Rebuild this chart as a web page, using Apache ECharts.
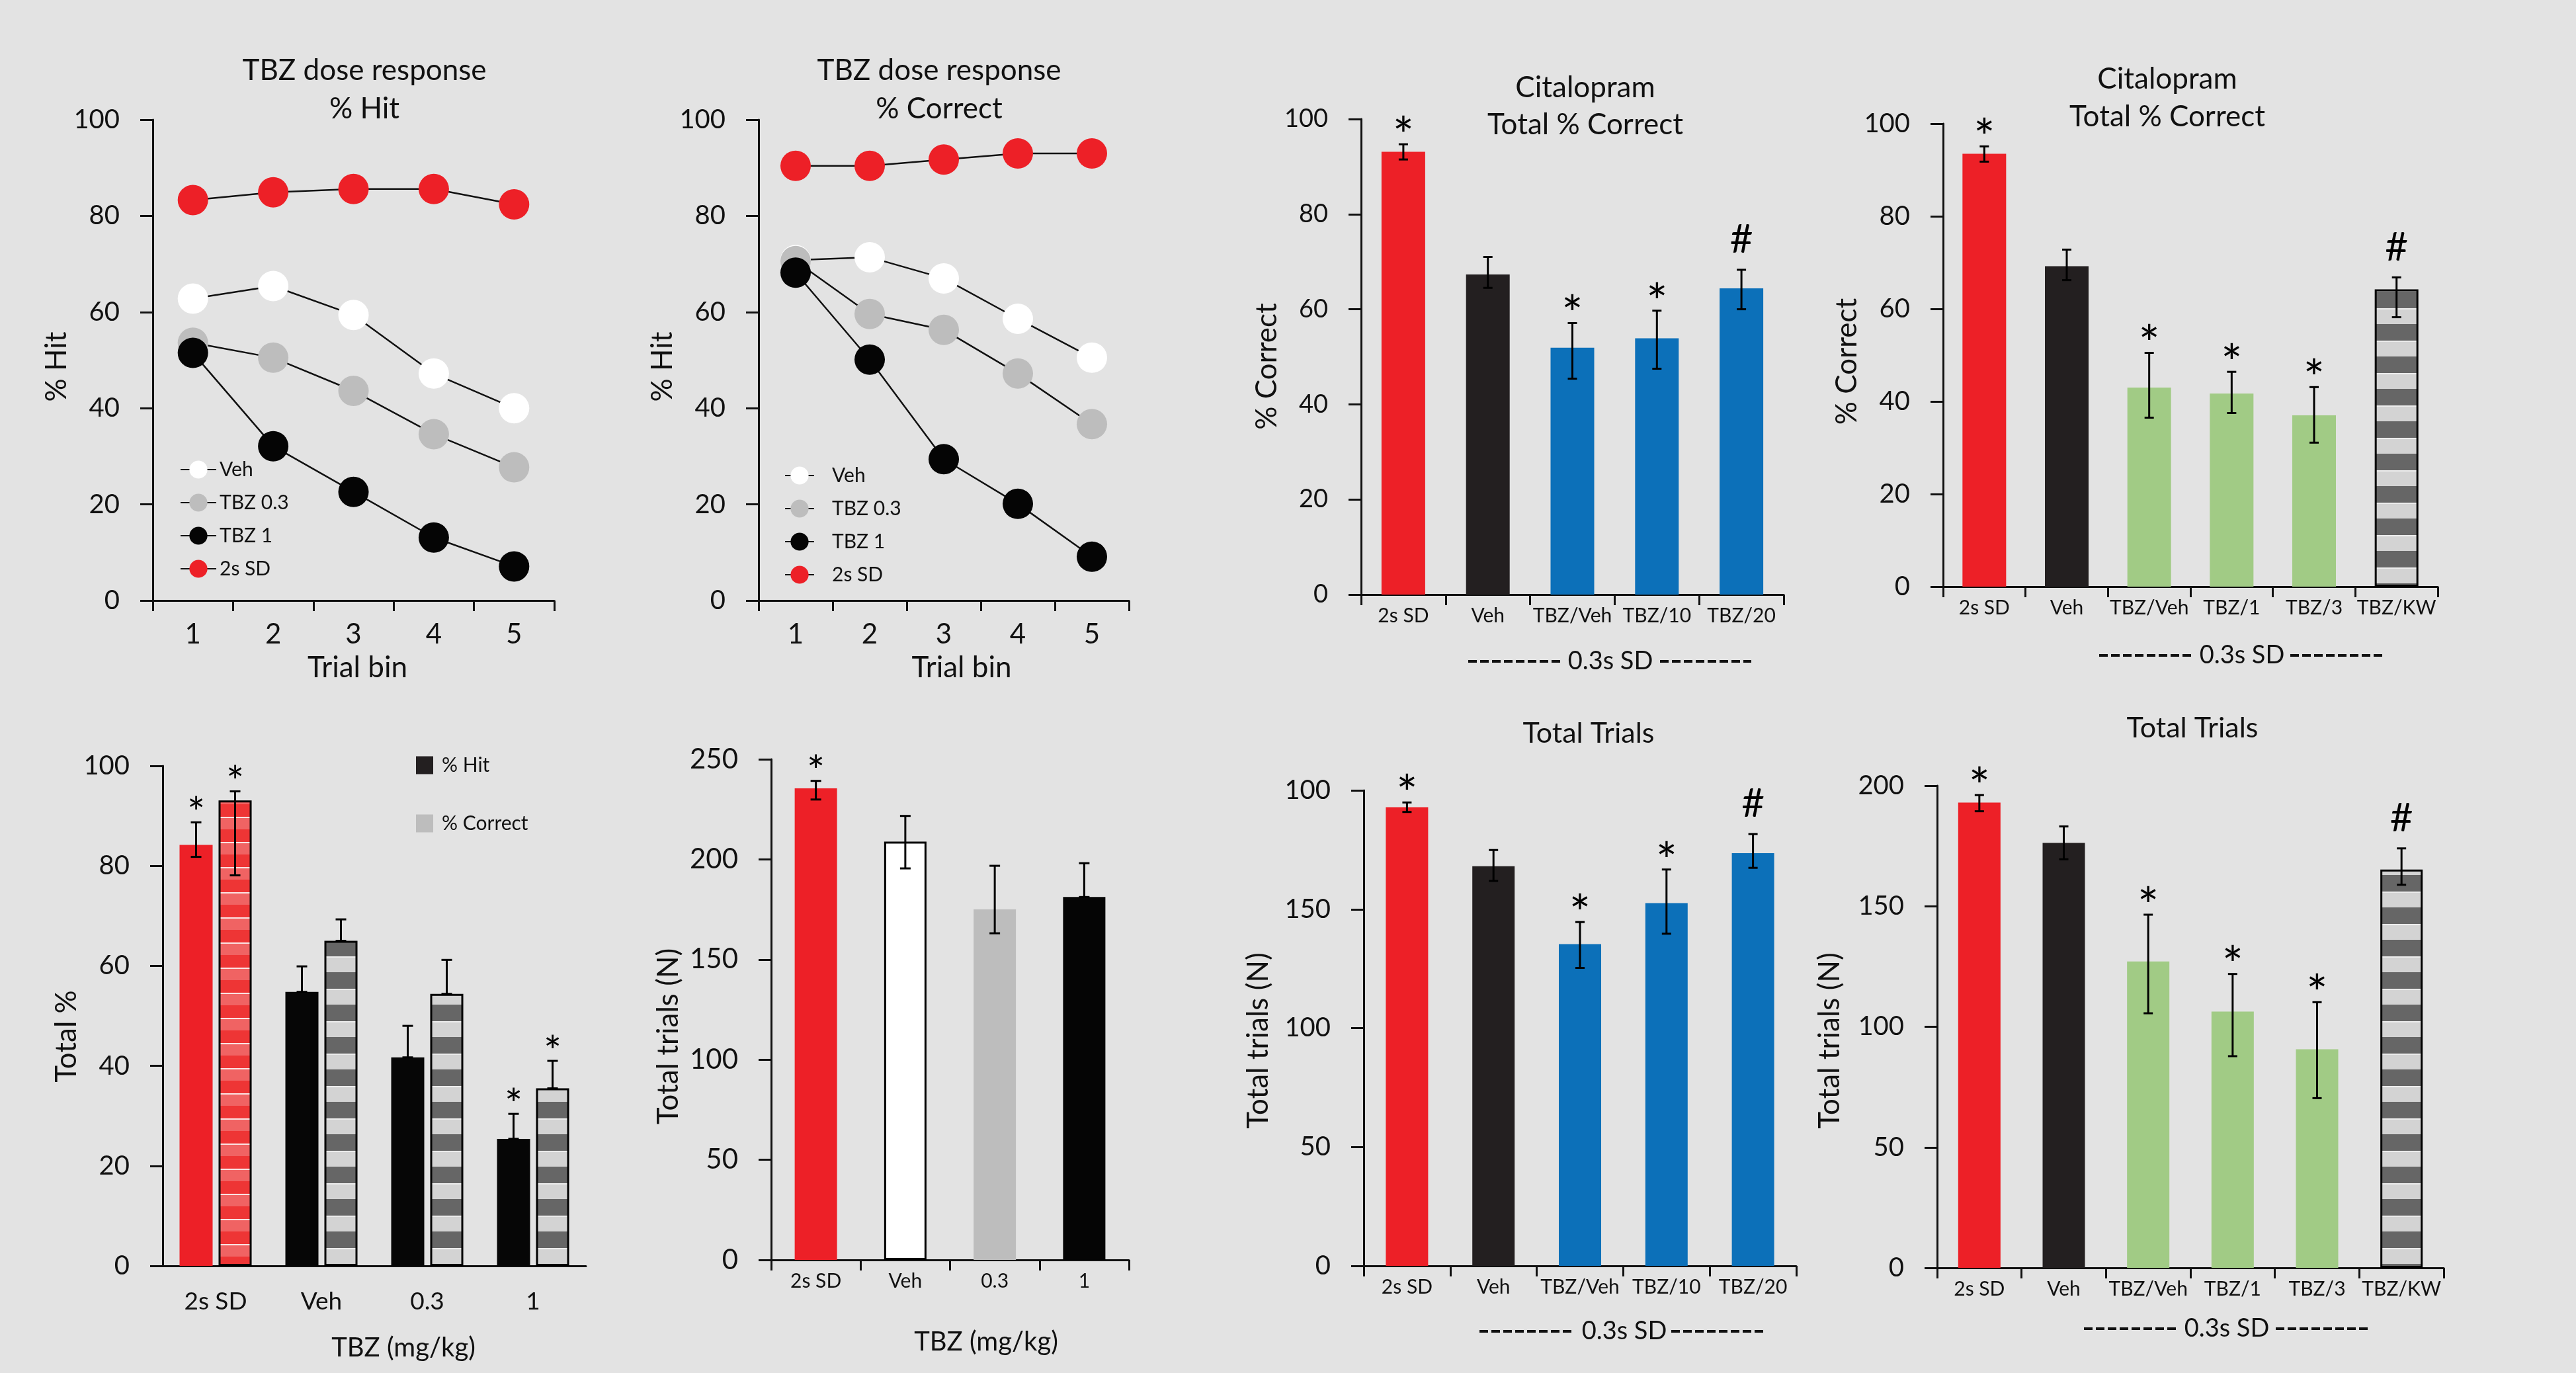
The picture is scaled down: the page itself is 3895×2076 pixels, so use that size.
<!DOCTYPE html>
<html><head><meta charset="utf-8">
<script src="https://cdn.jsdelivr.net/npm/echarts@6/dist/echarts.min.js"></script>
<style>html,body{margin:0;padding:0;background:#e3e3e3}#c{width:3895px;height:2076px}</style>
</head><body><div id="c"></div>
<script>
// ---------- DATA ----------
const trialBins = ['1', '2', '3', '4', '5'];
// Panel A: % Hit by trial bin
const hitVeh = [62.8, 65.4, 59.4, 47.2, 40.0];
const hitTbz03 = [53.6, 50.5, 43.6, 34.6, 27.7];
const hitTbz1 = [51.5, 32.1, 22.6, 13.1, 7.1];
const hitSd2 = [83.3, 84.9, 85.6, 85.6, 82.4];
// Panel B: % Correct by trial bin
const corVeh = [70.8, 71.4, 67.0, 58.6, 50.5];
const corTbz03 = [70.6, 59.6, 56.3, 47.2, 36.7];
const corTbz1 = [68.2, 50.1, 29.4, 20.1, 9.1];
const corSd2 = [90.4, 90.4, 91.7, 93.0, 93.0];
// Citalopram experiment 1
const citCats1 = ['2s SD', 'Veh', 'TBZ/Veh', 'TBZ/10', 'TBZ/20'];
const cit1Correct = [93.1, 67.3, 51.9, 53.9, 64.4];
const cit1CorrectHi = [94.7, 71.0, 57.1, 59.7, 68.3];
const cit1CorrectLo = [91.5, 64.5, 45.4, 47.5, 60.0];
const cit1CorrectSig = ['*', '', '*', '*', '#'];
const cit1Trials = [192.9, 168.1, 135.3, 152.6, 173.6];
const cit1TrialsHi = [194.9, 174.9, 144.6, 166.7, 181.6];
const cit1TrialsLo = [190.9, 161.9, 125.3, 139.7, 167.4];
const cit1TrialsSig = ['*', '', '*', '*', '#'];
const cit1TrialTicks = ['0', '50', '100', '150', '100'];
// Citalopram experiment 2
const citCats2 = ['2s SD', 'Veh', 'TBZ/Veh', 'TBZ/1', 'TBZ/3', 'TBZ/KW'];
const cit2Correct = [93.5, 69.2, 43.0, 41.7, 37.0, 64.2];
const cit2CorrectHi = [95.1, 72.8, 50.5, 46.4, 43.1, 66.8];
const cit2CorrectLo = [91.8, 66.2, 36.5, 37.5, 31.1, 58.2];
const cit2CorrectSig = ['*', '', '*', '*', '*', '#'];
const cit2Trials = [193.0, 176.3, 127.1, 106.3, 90.7, 165.2];
const cit2TrialsHi = [196.1, 183.1, 146.5, 121.9, 110.2, 174.0];
const cit2TrialsLo = [189.4, 169.5, 105.6, 87.8, 70.4, 158.9];
const cit2TrialsSig = ['*', '', '*', '*', '*', '#'];
// TBZ totals
const doseCats = ['2s SD', 'Veh', '0.3', '1'];
const totHit = [84.2, 54.8, 41.7, 25.4];
const totHitHi = [88.7, 59.9, 48.0, 30.4];
const totHitLo = [81.8, 54.8, 41.7, 25.4];
const totHitSig = ['*', '', '', '*'];
const totCorrect = [93.1, 65.0, 54.4, 35.5];
const totCorrectHi = [94.9, 69.3, 61.2, 41.0];
const totCorrectLo = [78.1, 65.0, 54.4, 35.5];
const totCorrectSig = ['*', '', '', '*'];
const doseTrials = [235.5, 208.9, 175.0, 181.2];
const doseTrialsHi = [239.2, 221.7, 196.8, 198.1];
const doseTrialsLo = [229.9, 195.5, 163.1, 181.2];
const doseTrialsSig = ['*', '', '', ''];

// ---------- STYLE ----------
const FF = 'Lato, "Open Sans", sans-serif';
const INK = '#111111';
const RED = '#ed2027', BLK = '#231f20', BLUE = '#0c70b9', GREEN = '#a1cb85', LGRAY = '#bdbdbd';
function stripes(dark, light, line, period) {
  const c = document.createElement('canvas');
  c.width = 8; c.height = period;
  const g = c.getContext('2d');
  const h = Math.round(period / 2);
  g.fillStyle = dark; g.fillRect(0, 0, 8, h);
  g.fillStyle = light; g.fillRect(0, h, 8, period - h);
  g.fillStyle = line; g.fillRect(0, h, 8, 2);
  return { image: c, repeat: 'repeat' };
}
const grayStripe = stripes('#666666', '#d3d3d3', '#ececec', 49);
const redStripe = stripes('#ee3535', '#f06363', '#fbe3e3', 38);

const grids = [
  { left: 231, top: 181, width: 607, height: 727 },
  { left: 1147, top: 181, width: 560, height: 727 },
  { left: 2058, top: 180, width: 639, height: 719 },
  { left: 2938, top: 187, width: 748, height: 700 },
  { left: 246, top: 1158, width: 640, height: 756 },
  { left: 1166, top: 1148, width: 541, height: 757 },
  { left: 2062, top: 1195, width: 654, height: 719 },
  { left: 2929, top: 1188, width: 766, height: 729 }
];

const axisLine = { show: true, lineStyle: { color: INK, width: 3 } };
function yAx(gi, max, interval, name, gap, pad, fs, fmt) {
  return {
    type: 'value', gridIndex: gi, min: 0, max: max, interval: interval,
    name: name, nameLocation: 'middle', nameGap: gap, nameRotate: 90,
    nameTextStyle: { fontFamily: FF, fontSize: 44, color: INK, padding: pad },
    axisLine: axisLine,
    axisTick: { show: true, length: 19, lineStyle: { color: INK, width: 3 } },
    axisLabel: { fontFamily: FF, fontSize: fs, color: INK, margin: 50, formatter: fmt },
    splitLine: { show: false }
  };
}
function xAx(gi, data, fs, margin, opts) {
  return Object.assign({
    type: 'category', gridIndex: gi, data: data, boundaryGap: true,
    axisLine: axisLine,
    axisTick: { show: true, length: 16, lineStyle: { color: INK, width: 3 } },
    axisLabel: { fontFamily: FF, fontSize: fs, color: INK, margin: margin, interval: 0 }
  }, opts || {});
}

function lineSeries(name, gi, data, color) {
  return {
    type: 'line', name: name, xAxisIndex: gi, yAxisIndex: gi, data: data,
    symbol: 'circle', symbolSize: 46,
    itemStyle: { color: color },
    lineStyle: { color: INK, width: 2.5 },
    emphasis: { disabled: true }
  };
}
function barSeries(name, gi, data, fills, width, extra) {
  return Object.assign({
    type: 'bar', name: name, xAxisIndex: gi, yAxisIndex: gi, barWidth: width,
    data: data.map((v, i) => {
      const f = fills[i];
      const st = (typeof f === 'object' || f === '#ffffff')
        ? { color: f, borderColor: '#000', borderWidth: 3 }
        : { color: f };
      return { value: v, itemStyle: st };
    }),
    emphasis: { disabled: true }
  }, extra || {});
}
function errSeries(gi, hi, lo, sig, offset, cap, starFont, starGap) {
  return {
    type: 'custom', xAxisIndex: gi, yAxisIndex: gi, z: 5,
    data: hi.map((h, i) => [i, h, lo[i]]),
    encode: { x: 0, y: [1, 2] },
    renderItem: function (params, api) {
      const i = api.value(0);
      const pH = api.coord([i, api.value(1)]);
      const pL = api.coord([i, api.value(2)]);
      const x = pH[0] + offset;
      const ls = { stroke: '#000', lineWidth: 3 };
      const ch = [
        { type: 'line', shape: { x1: x, y1: pH[1], x2: x, y2: pL[1] }, style: ls },
        { type: 'line', shape: { x1: x - cap / 2, y1: pH[1], x2: x + cap / 2, y2: pH[1] }, style: ls },
        { type: 'line', shape: { x1: x - cap / 2, y1: pL[1], x2: x + cap / 2, y2: pL[1] }, style: ls }
      ];
      const s = sig[i];
      if (s) {
        const isHash = s === '#';
        const fs = isHash ? 60 : starFont;
        const dy = isHash ? 45 : (starGap - 0.28 * starFont);
        ch.push({
          type: 'text', x: x, y: pH[1] - dy,
          style: { text: s, fontFamily: FF, fontSize: fs, fill: '#000', align: 'center', verticalAlign: 'middle' }
        });
      }
      return { type: 'group', children: ch };
    }
  };
}

function gText(x, y, text, size) {
  return { type: 'text', x: x, y: y, silent: true,
    style: { text: text, fontFamily: FF, fontSize: size, fill: INK, align: 'center', verticalAlign: 'middle' } };
}
function sdLabel(x1, x2, xt, x3, x4, y) {
  const ls = { stroke: INK, lineWidth: 4, lineDash: [13, 5] };
  return [
    { type: 'line', shape: { x1: x1, y1: y, x2: x2, y2: y }, style: ls, silent: true },
    gText(xt, y, '0.3s SD', 38),
    { type: 'line', shape: { x1: x3, y1: y, x2: x4, y2: y }, style: ls, silent: true }
  ];
}

const option = {
  backgroundColor: '#e3e3e3',
  animation: false,
  grid: grids,
  xAxis: [
    xAx(0, trialBins, 42, 30, { name: 'Trial bin', nameLocation: 'middle', nameGap: 80,
      nameTextStyle: { fontFamily: FF, fontSize: 44, color: INK, padding: [0, 0, 0, 12] } }),
    xAx(1, trialBins, 42, 30, { name: 'Trial bin', nameLocation: 'middle', nameGap: 80,
      nameTextStyle: { fontFamily: FF, fontSize: 44, color: INK, padding: [0, 0, 0, 54] } }),
    xAx(2, citCats1, 30, 17),
    xAx(3, citCats2, 30, 17),
    xAx(4, doseCats, 37, 36, { axisTick: { show: false }, name: 'TBZ (mg/kg)', nameLocation: 'middle', nameGap: 104,
      nameTextStyle: { fontFamily: FF, fontSize: 40, color: INK, padding: [0, 0, 0, 88] } }),
    xAx(5, doseCats, 30, 17, { name: 'TBZ (mg/kg)', nameLocation: 'middle', nameGap: 104,
      nameTextStyle: { fontFamily: FF, fontSize: 40, color: INK, padding: [0, 0, 0, 109] } }),
    xAx(6, citCats1, 30, 17),
    xAx(7, citCats2, 30, 17)
  ],
  yAxis: [
    yAx(0, 100, 20, '% Hit', 106, [0, 20, 0, 0], 40),
    yAx(1, 100, 20, '% Hit', 108, [0, 20, 0, 0], 40),
    yAx(2, 100, 20, '% Correct', 110, [0, 29, 0, 0], 38),
    yAx(3, 100, 20, '% Correct', 108, [0, 19, 0, 0], 40),
    yAx(4, 100, 20, 'Total %', 110, [0, 62, 0, 0], 40),
    yAx(5, 250, 50, 'Total trials (N)', 133, [0, 81, 0, 0], 42),
    yAx(6, 200, 50, 'Total trials (N)', 137, [0, 38, 0, 0], 40, v => cit1TrialTicks[Math.round(v / 50)]),
    yAx(7, 200, 50, 'Total trials (N)', 140, [0, 42, 0, 0], 40)
  ],
  legend: [
    { orient: 'vertical', left: 267, top: 690, itemWidth: 54, itemHeight: 34, itemGap: 20, selectedMode: false,
      data: ['Veh', 'TBZ 0.3', 'TBZ 1', '2s SD'],
      textStyle: { fontFamily: FF, fontSize: 30, color: INK } },
    { orient: 'vertical', left: 1181, top: 699, itemWidth: 44, itemHeight: 34, itemGap: 20, selectedMode: false,
      data: ['Veh', 'TBZ 0.3', 'TBZ 1', '2s SD'],
      textStyle: { fontFamily: FF, fontSize: 30, color: INK, padding: [0, 0, 0, 22] } },
    { orient: 'vertical', left: 624, top: 1137, itemWidth: 26, itemHeight: 27, itemGap: 58, selectedMode: false, icon: 'rect',
      data: [{ name: '% Hit', itemStyle: { color: BLK, borderWidth: 0 } },
             { name: '% Correct', itemStyle: { color: LGRAY, borderWidth: 0 } }],
      textStyle: { fontFamily: FF, fontSize: 30, color: INK, padding: [0, 0, 0, 8] } }
  ],
  series: [
    lineSeries('Veh', 0, hitVeh, '#ffffff'),
    lineSeries('TBZ 0.3', 0, hitTbz03, LGRAY),
    lineSeries('TBZ 1', 0, hitTbz1, '#050505'),
    lineSeries('2s SD', 0, hitSd2, RED),
    lineSeries('Veh', 1, corVeh, '#ffffff'),
    lineSeries('TBZ 0.3', 1, corTbz03, LGRAY),
    lineSeries('TBZ 1', 1, corTbz1, '#050505'),
    lineSeries('2s SD', 1, corSd2, RED),

    barSeries('Cit1 correct', 2, cit1Correct, [RED, BLK, BLUE, BLUE, BLUE], 66),
    errSeries(2, cit1CorrectHi, cit1CorrectLo, cit1CorrectSig, 0, 14, 76, 32),

    barSeries('Cit2 correct', 3, cit2Correct, [RED, BLK, GREEN, GREEN, GREEN, grayStripe], 66),
    errSeries(3, cit2CorrectHi, cit2CorrectLo, cit2CorrectSig, 0, 14, 76, 32),

    barSeries('% Hit', 4, totHit, [RED, '#060606', '#060606', '#060606'], 50, { barGap: '18%' }),
    barSeries('% Correct', 4, totCorrect, [redStripe, grayStripe, grayStripe, grayStripe], 50, { barGap: '18%' }),
    errSeries(4, totHitHi, totHitLo, totHitSig, -29.5, 16, 64, 30),
    errSeries(4, totCorrectHi, totCorrectLo, totCorrectSig, 29.5, 16, 64, 30),

    barSeries('Dose trials', 5, doseTrials, [RED, '#ffffff', LGRAY, '#050505'], 64),
    errSeries(5, doseTrialsHi, doseTrialsLo, doseTrialsSig, 0, 16, 64, 30),

    barSeries('Cit1 trials', 6, cit1Trials, [RED, BLK, BLUE, BLUE, BLUE], 64),
    errSeries(6, cit1TrialsHi, cit1TrialsLo, cit1TrialsSig, 0, 14, 76, 32),

    barSeries('Cit2 trials', 7, cit2Trials, [RED, BLK, GREEN, GREEN, GREEN, grayStripe], 64),
    errSeries(7, cit2TrialsHi, cit2TrialsLo, cit2TrialsSig, 0, 14, 76, 32)
  ],
  graphic: [
    gText(551, 107, 'TBZ dose response', 44),
    gText(551, 165, '% Hit', 44),
    gText(1420, 107, 'TBZ dose response', 44),
    gText(1420, 165, '% Correct', 44),
    gText(2397, 133, 'Citalopram', 44),
    gText(2397, 189, 'Total % Correct', 44),
    gText(3277, 120, 'Citalopram', 44),
    gText(3277, 177, 'Total % Correct', 44),
    gText(2402, 1109, 'Total Trials', 43),
    gText(3315, 1101, 'Total Trials', 43)
  ].concat(
    sdLabel(2220, 2360, 2435, 2510, 2648, 1000),
    sdLabel(3174, 3315, 3390, 3463, 3605, 991),
    sdLabel(2237, 2378, 2456, 2527, 2668, 2013),
    sdLabel(3151, 3291, 3367, 3441, 3580, 2009)
  )
};

const chart = echarts.init(document.getElementById('c'), null, { renderer: 'canvas', width: 3895, height: 2076 });
chart.setOption(option);
</script>
</body></html>
